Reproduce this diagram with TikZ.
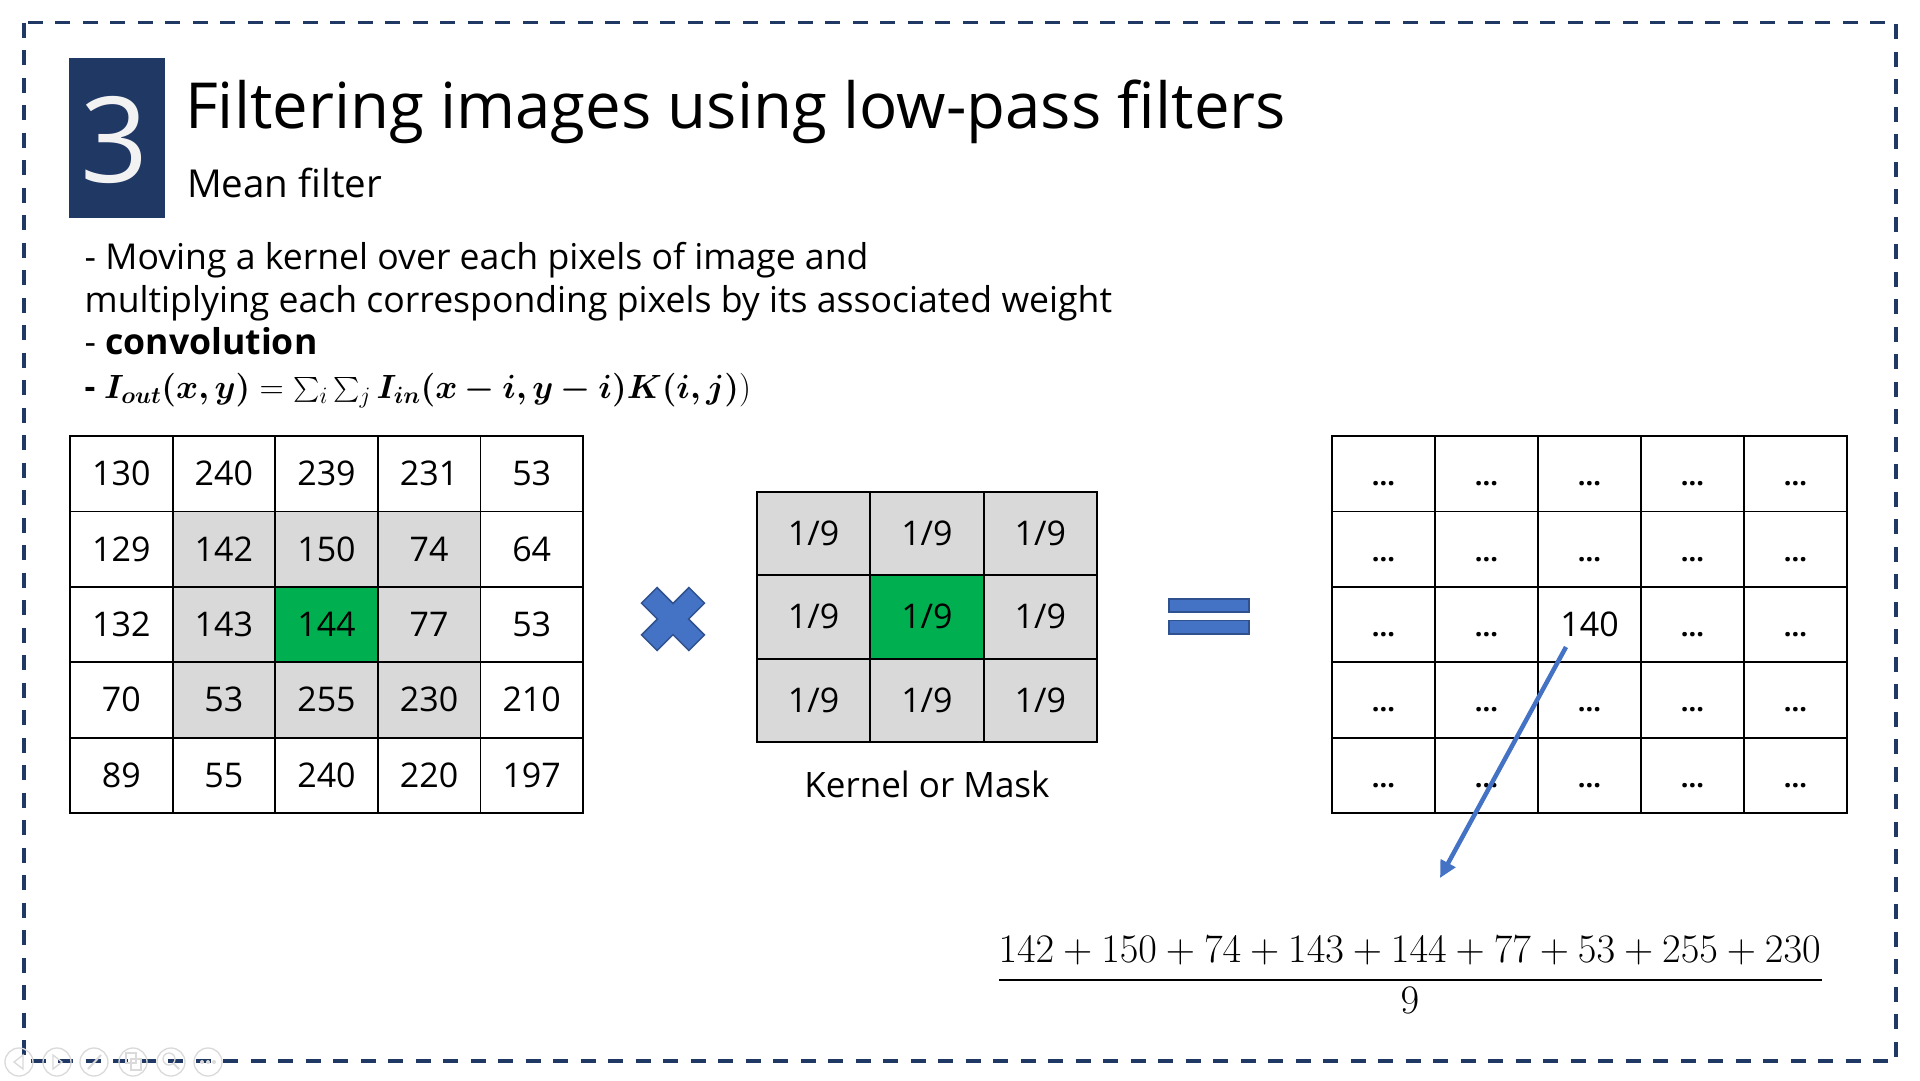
\RequirePackage{fix-cm}
\documentclass[tikz,border=0pt]{standalone}
\usepackage{amsmath}
\usepackage{bm}
\usepackage[no-math]{fontspec}
\setmainfont{Open Sans}
\usetikzlibrary{arrows.meta}
\definecolor{navy}{HTML}{203864}
\definecolor{pblue}{HTML}{4472C4}
\definecolor{pbluedark}{HTML}{2F528F}
\definecolor{cellgray}{HTML}{D9D9D9}
\definecolor{cellgreen}{HTML}{00B050}
\definecolor{ctrlgray}{HTML}{DADADA}
\begin{document}
\begin{tikzpicture}[x=1pt,y=-1pt,
  cellbase/.style={draw=black, line width=1.8pt, inner sep=0pt, text height=24pt, text depth=0pt, anchor=center, font=\fontsize{34}{40}\selectfont},
  cellL/.style={cellbase, minimum width=102.6pt, minimum height=75.4pt},
  cellK/.style={cellbase, minimum width=113.3pt, minimum height=83.3pt},
  cellR/.style={cellbase, minimum width=103pt, minimum height=75.4pt, fill=white},
  bodytext/.style={anchor=base west, inner sep=0pt, font=\fontsize{35.6}{40}\selectfont},
  bluesym/.style={fill=pblue, draw=pbluedark, line width=1.5pt},
  ctrl/.style={draw=ctrlgray, line width=1.3pt}
]
\useasboundingbox (0,0) rectangle (1920,1080);
\fill[white] (0,0) rectangle (1920,1080);

% dashed frame
\draw[navy, line width=3.5pt, dash pattern=on 15pt off 12.5pt] (24,22.5) rectangle (1896,1061);

% header
\node[fill=navy, minimum width=96pt, minimum height=160pt, inner sep=0pt, anchor=north west] (numbox) at (69,58) {};
\node[anchor=base, inner sep=0pt, text=white!95!black, font=\fontsize{119}{120}\selectfont] (numthree) at (114.5,182) {3};
\node[anchor=base west, inner sep=0pt, font=\fontsize{63.5}{70}\selectfont] (title) at (185,128) {Filtering images using low-pass filters};
\node[anchor=base west, inner sep=0pt, font=\fontsize{38.5}{42}\selectfont] (subtitle) at (187,197) {Mean filter};

% body
\node[bodytext] (line1) at (84.5,269) {- Moving a kernel over each pixels of image and};
\node[bodytext] (line2) at (84.5,312) {multiplying each corresponding pixels by its associated weight};
\node[bodytext] (line3) at (84.5,354) {- \textbf{convolution}};
\node[bodytext, font=\fontsize{33.6}{36}\selectfont] (line4) at (84.5,398) {\textbf{-} $\bm{I_{out}(x,y)} = \sum_i\sum_j \bm{I_{in}(x-i,y-i)K(i,j)})$};

% left image grid
\foreach \v/\f [count=\c] in {130/white,240/white,239/white,231/white,53/white}
  \node[cellL, fill=\f] (a1\c) at ({70+(\c-0.5)*102.6},{436+0.5*75.4}) {\v};
\foreach \v/\f [count=\c] in {129/white,142/cellgray,150/cellgray,74/cellgray,64/white}
  \node[cellL, fill=\f] (a2\c) at ({70+(\c-0.5)*102.6},{436+1.5*75.4}) {\v};
\foreach \v/\f [count=\c] in {132/white,143/cellgray,144/cellgreen,77/cellgray,53/white}
  \node[cellL, fill=\f] (a3\c) at ({70+(\c-0.5)*102.6},{436+2.5*75.4}) {\v};
\foreach \v/\f [count=\c] in {70/white,53/cellgray,255/cellgray,230/cellgray,210/white}
  \node[cellL, fill=\f] (a4\c) at ({70+(\c-0.5)*102.6},{436+3.5*75.4}) {\v};
\foreach \v/\f [count=\c] in {89/white,55/white,240/white,220/white,197/white}
  \node[cellL, fill=\f] (a5\c) at ({70+(\c-0.5)*102.6},{436+4.5*75.4}) {\v};

% multiply sign
\begin{scope}[shift={(673,619)}, rotate=45]
  \draw[bluesym] (33.5,11) -- (11,11) -- (11,33.5) -- (-11,33.5) -- (-11,11) -- (-33.5,11)
    -- (-33.5,-11) -- (-11,-11) -- (-11,-33.5) -- (11,-33.5) -- (11,-11) -- (33.5,-11) -- cycle;
\end{scope}

% kernel grid
\foreach \r/\c/\f in {1/1/cellgray,1/2/cellgray,1/3/cellgray,2/1/cellgray,2/2/cellgreen,2/3/cellgray,3/1/cellgray,3/2/cellgray,3/3/cellgray}
  \node[cellK, fill=\f] (k\r\c) at ({757+(\c-0.5)*113.3},{492+(\r-0.5)*83.3}) {1/9};
\node[anchor=base, inner sep=0pt, font=\fontsize{35}{40}\selectfont] (kernlabel) at (927,797) {Kernel or Mask};

% equals sign
\draw[bluesym] (1169,599) rectangle (1249,612);
\draw[bluesym] (1169,620.5) rectangle (1249,634);

% result grid
\foreach \r in {1,...,5}
  \foreach \c in {1,...,5}
    \node[cellR] (r\r\c) at ({1332+(\c-0.5)*103},{436+(\r-0.5)*75.4})
      {\ifnum\r\c=33 140\else\vphantom{0}\textbf{\fontsize{27}{30}\selectfont ...}\fi};

% arrow
\coordinate (arrowstart) at (1566,647);
\coordinate (arrowend) at (1440,878);
\draw[pblue, line width=4.5pt, -{Triangle[length=17pt,width=16pt]}] (arrowstart) -- (arrowend);

% fraction
\node[anchor=base, inner sep=0pt, font=\fontsize{40.5}{42}\selectfont] (num) at (1410,962) {$142+150+74+143+144+77+53+255+230$};
\node[anchor=base, inner sep=0pt, font=\fontsize{40.5}{42}\selectfont] (den) at (1410,1013) {$9$};
\coordinate (barl) at (999,980);
\coordinate (barr) at (1822,980);
\draw[line width=2pt] (barl) -- (barr);

% faint slideshow controls
\foreach \x in {19,57,94,133,171,208}
  \draw[ctrl] (\x,1062) circle (14);
\draw[ctrl] (23,1055) -- (14,1062) -- (23,1069) -- cycle;
\draw[ctrl] (53,1055) -- (62,1062) -- (53,1069) -- cycle;
\draw[ctrl, line width=2pt] (88,1069) -- (101,1055);
\draw[ctrl] (126,1053) rectangle (136,1063);
\draw[ctrl] (131,1059) rectangle (141,1070);
\draw[ctrl] (169,1059) circle (6);
\draw[ctrl, line width=2pt] (173,1063) -- (179,1069);
\foreach \d in {-6,0,6} \fill[ctrlgray] (208+\d,1062) circle (2);
\end{tikzpicture}
\end{document}
